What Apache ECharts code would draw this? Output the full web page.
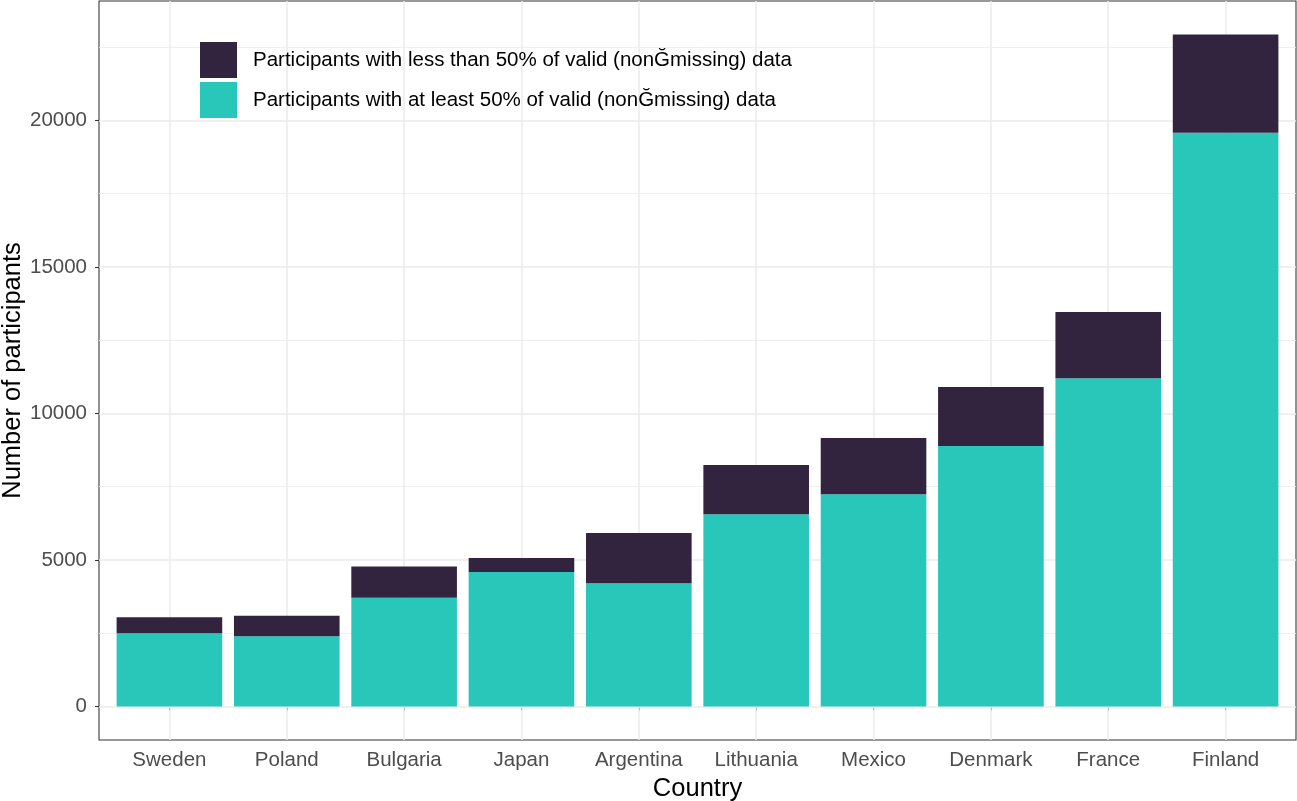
<!DOCTYPE html>
<html><head><meta charset="utf-8">
<script src="https://cdn.jsdelivr.net/npm/echarts@6/dist/echarts.min.js"></script>
<style>html,body{margin:0;padding:0;background:#fff}#c{width:1297px;height:801px}</style>
</head><body><div id="c"></div>
<script>
const categories = ['Sweden','Poland','Bulgaria','Japan','Argentina','Lithuania','Mexico','Denmark','France','Finland'];
const validAtLeast50 = [2499, 2397, 3705, 4592, 4204, 6556, 7238, 8887, 11205, 19578];
const validLessThan50 = [545, 695, 1068, 477, 1717, 1684, 1922, 2012, 2261, 3354];
const yTickValues = [0, 5000, 10000, 15000, 20000];
const yMinorValues = [2500, 7500, 12500, 17500, 22500];
const seriesNames = [
  'Participants with less than 50% of valid (nonĞmissing) data',
  'Participants with at least 50% of valid (nonĞmissing) data'
];
const colorLess = '#32243E';
const colorValid = '#29C7B9';

const totals = validAtLeast50.map((v, i) => v + validLessThan50[i]);
const maxTotal = Math.max(...totals);
const yMax = maxTotal * 1.05;
const yMin = -maxTotal * 0.05;

const FONT = '"Liberation Sans", Arial, Helvetica, sans-serif';
const G_LEFT = 99, G_RIGHT = 1, G_TOP = 1, G_BOTTOM = 61;
const panelW = 1297 - G_LEFT - G_RIGHT;
const unit = panelW / 10.2;
const pad = unit * 0.1;
const GRID_COLOR = '#EBEBEB';

const chart = echarts.init(document.getElementById('c'), null, {renderer: 'canvas'});
chart.setOption({
  animation: false,
  backgroundColor: '#fff',
  textStyle: {fontFamily: FONT},
  grid: [
    {left: G_LEFT, right: G_RIGHT, top: G_TOP, bottom: G_BOTTOM, show: true,
     borderColor: '#333333', borderWidth: 1.07, backgroundColor: 'transparent',
     containLabel: false, outerBoundsMode: 'none'},
    {left: G_LEFT + pad, right: G_RIGHT + pad, top: G_TOP, bottom: G_BOTTOM,
     containLabel: false, outerBoundsMode: 'none'}
  ],
  legend: {
    data: seriesNames,
    orient: 'vertical',
    left: 200, top: 42, padding: 0,
    itemWidth: 37, itemHeight: 36, itemGap: 4,
    icon: 'rect',
    selectedMode: false,
    textStyle: {fontFamily: FONT, fontSize: 20.5, color: '#000', padding: [6, 0, 0, 11]}
  },
  xAxis: [
    {gridIndex: 0, type: 'value', min: 0, max: 1, show: false},
    {gridIndex: 1, type: 'category', data: categories,
     axisLine: {show: false},
     axisTick: {show: true, alignWithLabel: true, length: 4, lineStyle: {color: '#333333', width: 1.07}},
     axisLabel: {color: '#4D4D4D', fontSize: 20.5, margin: 10, fontFamily: FONT},
     splitLine: {show: false},
     name: 'Country', nameLocation: 'middle', nameGap: 36, nameMoveOverlap: false,
     nameTextStyle: {fontSize: 25.5, color: '#000', fontFamily: FONT}}
  ],
  yAxis: [
    {gridIndex: 0, type: 'value', min: yMin, max: yMax,
     axisLine: {show: false},
     axisTick: {show: true, customValues: yTickValues, length: 4, lineStyle: {color: '#333333', width: 1.07}},
     axisLabel: {customValues: yTickValues, color: '#4D4D4D', fontSize: 20.5, margin: 12, fontFamily: FONT,
                 formatter: v => String(Math.round(v))},
     splitLine: {show: false},
     name: 'Number of participants', nameLocation: 'middle', nameGap: 73, nameMoveOverlap: false,
     nameTextStyle: {fontSize: 25.5, color: '#000', fontFamily: FONT}},
    {gridIndex: 1, type: 'value', min: yMin, max: yMax, show: false, splitLine: {show: false}}
  ],
  series: [
    {type: 'line', xAxisIndex: 0, yAxisIndex: 0, data: [], z: 1, silent: true,
     markLine: {silent: true, symbol: 'none', animation: false, label: {show: false}, z: 1,
       lineStyle: {color: GRID_COLOR, type: 'solid'},
       data: yTickValues.map(v => ({yAxis: v, lineStyle: {width: 1.5, color: GRID_COLOR, type: 'solid'}}))
         .concat(yMinorValues.map(v => ({yAxis: v, lineStyle: {width: 0.8, color: GRID_COLOR, type: 'solid'}})))}},
    {type: 'line', xAxisIndex: 1, yAxisIndex: 1, data: [], z: 1, silent: true,
     markLine: {silent: true, symbol: 'none', animation: false, label: {show: false}, z: 1,
       lineStyle: {color: GRID_COLOR, width: 1.5, type: 'solid'},
       data: categories.map(c => ({xAxis: c}))}},
    {name: seriesNames[1], type: 'bar', stack: 'total', xAxisIndex: 1, yAxisIndex: 1,
     data: validAtLeast50, barCategoryGap: '10%', itemStyle: {color: colorValid}, z: 2},
    {name: seriesNames[0], type: 'bar', stack: 'total', xAxisIndex: 1, yAxisIndex: 1,
     data: validLessThan50, barCategoryGap: '10%', itemStyle: {color: colorLess}, z: 2}
  ]
});
</script>
</body></html>
